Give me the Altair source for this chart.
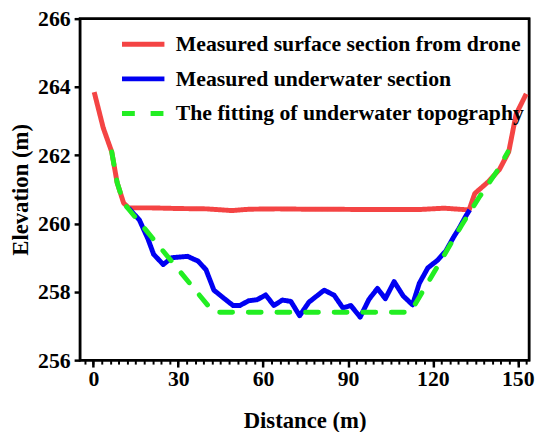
import altair as alt
import pandas as pd

series = [
    "Measured surface section from drone",
    "Measured underwater section",
    "The fitting of underwater topography",
]
colors = ["#F44444", "#0000F2", "#22EE22"]

# Measured surface section from drone (red)
red_x = [0.3, 3.5, 6.5, 8.4, 10.7, 12.5, 20, 30, 40, 49, 55, 65, 75, 85, 95,
         105, 115, 124, 129, 132.8, 134.8, 139.5, 143.5, 146.8, 149.4, 153.0]
red_y = [263.85, 262.8, 262.1, 261.2, 260.6, 260.46, 260.46, 260.44, 260.43,
         260.38, 260.42, 260.43, 260.42, 260.42, 260.41, 260.41, 260.41, 260.45,
         260.42, 260.40, 260.88, 261.22, 261.58, 262.1, 263.2, 263.8]

# Measured underwater section (blue)
blue_x = [12.5, 16.3, 19.3, 21.3, 24.7, 27.7, 33.3, 37, 39.8, 42.6, 46, 49.4,
          51.8, 54.9, 57.9, 60.9, 63.8, 66.8, 69.8, 72.9, 76.2, 81.6, 85.1, 88.2,
          91, 94.3, 97.4, 100.4, 103.2, 106.3, 109.5, 112.8, 115.2, 118.2, 121.7,
          124.6, 127.3, 129.4, 131.5, 133.0]
blue_y = [260.45, 260.1, 259.55, 259.1, 258.8, 259.0, 259.04, 258.9, 258.65,
          258.05, 257.82, 257.6, 257.6, 257.74, 257.77, 257.91, 257.6, 257.76,
          257.72, 257.3, 257.7, 258.05, 257.9, 257.53, 257.6, 257.26, 257.78,
          258.1, 257.8, 258.3, 257.88, 257.62, 258.25, 258.7, 258.93, 259.2,
          259.6, 259.88, 260.2, 260.4]

# The fitting of underwater topography (green dashed)
green_x = [6.5, 8.4, 10.7, 12.5, 42.5, 112, 118.6, 124, 130, 136.2, 142.8, 146.5]
green_y = [262.1, 261.2, 260.6, 260.42, 257.4, 257.4, 258.32, 259.08, 259.93,
           260.75, 261.55, 262.1]

# axis limits (also used for the box around the plot)
x_range = [-4.7, 154]
y_range = [256, 266]

x_ticks = [0, 30, 60, 90, 120, 150]
x_minor = list(range(-3, 154, 3))
y_ticks = [256, 258, 260, 262, 264, 266]

rows = []
for name, xs, ys in [(series[0], red_x, red_y), (series[1], blue_x, blue_y),
                     (series[2], green_x, green_y)]:
    for i, (a, b) in enumerate(zip(xs, ys)):
        rows.append({"series": name, "distance": a, "elevation": b, "order": i})
df = pd.DataFrame(rows)
frame_df = pd.DataFrame({"x0": [x_range[0]], "x1": [x_range[1]],
                         "y0": [y_range[0]], "y1": [y_range[1]]})

FONT = "Liberation Serif"
W, H = 455, 346
x_scale = alt.Scale(domain=x_range, nice=False, zero=False)
y_scale = alt.Scale(domain=y_range, nice=False, zero=False)


def make_legend():
    return alt.Legend(title=None, orient="none", legendX=40, legendY=2,
                      symbolType="stroke", symbolSize=1849, symbolStrokeWidth=5,
                      labelOffset=9, rowPadding=-19, labelLimit=0, padding=0)


color_enc = alt.Color(
    "series:N",
    scale=alt.Scale(domain=series, range=colors),
    legend=make_legend(),
)
dash_enc = alt.StrokeDash(
    "series:N",
    scale=alt.Scale(domain=series, range=[[1, 0], [1, 0], [13, 16]]),
    legend=make_legend(),
)

# box around the plot area, positioned through the scales
frame = alt.Chart(frame_df).mark_rect(
    filled=False, fillOpacity=0, stroke="black", strokeWidth=2.5
).encode(
    x=alt.X("x0:Q", scale=x_scale,
            axis=alt.Axis(values=x_ticks, title="Distance (m)", tickSize=7,
                          labelPadding=2, titlePadding=20, orient="bottom",
                          domain=False)),
    x2="x1:Q",
    y=alt.Y("y0:Q", scale=y_scale,
            axis=alt.Axis(values=y_ticks, title="Elevation (m)", tickSize=6,
                          labelPadding=4, titlePadding=5, format="d",
                          orient="left", domain=False)),
    y2="y1:Q",
)

solid = alt.Chart(df).transform_filter(
    alt.FieldOneOfPredicate(field="series", oneOf=series[:2])
).mark_line(strokeWidth=5, strokeCap="butt", strokeJoin="round").encode(
    x=alt.X("distance:Q", scale=x_scale,
            axis=alt.Axis(values=x_minor, title=None, tickSize=4, tickWidth=2,
                          labels=False, domain=False, orient="bottom")),
    y=alt.Y("elevation:Q", scale=y_scale, axis=None),
    color=color_enc,
    strokeDash=dash_enc,
    order="order:Q",
    detail="series:N",
)

dashed = alt.Chart(df).transform_filter(
    alt.FieldEqualPredicate(field="series", equal=series[2])
).mark_line(strokeWidth=5, strokeCap="round", strokeJoin="round").encode(
    x=alt.X("distance:Q", scale=x_scale, axis=None),
    y=alt.Y("elevation:Q", scale=y_scale, axis=None),
    color=color_enc,
    strokeDash=dash_enc,
    order="order:Q",
)

chart = alt.layer(frame, solid, dashed).resolve_axis(
    x="independent", y="independent"
).properties(
    width=W, height=H,
    autosize=alt.AutoSizeParams(type="none"),
    padding={"left": 73, "top": 8, "right": 8, "bottom": 70},
).configure_view(
    stroke="black", strokeWidth=2.5
).configure_axis(
    grid=False,
    tickColor="black", tickWidth=2.5,
    labelFont=FONT, labelFontWeight="bold", labelFontSize=22, labelColor="black",
    titleFont=FONT, titleFontWeight="bold", titleFontSize=23, titleColor="black",
).configure_legend(
    labelFont=FONT, labelFontWeight="bold", labelFontSize=22, labelColor="black",
)

chart.save("out.html", embed_options={"renderer": "svg", "actions": False})
